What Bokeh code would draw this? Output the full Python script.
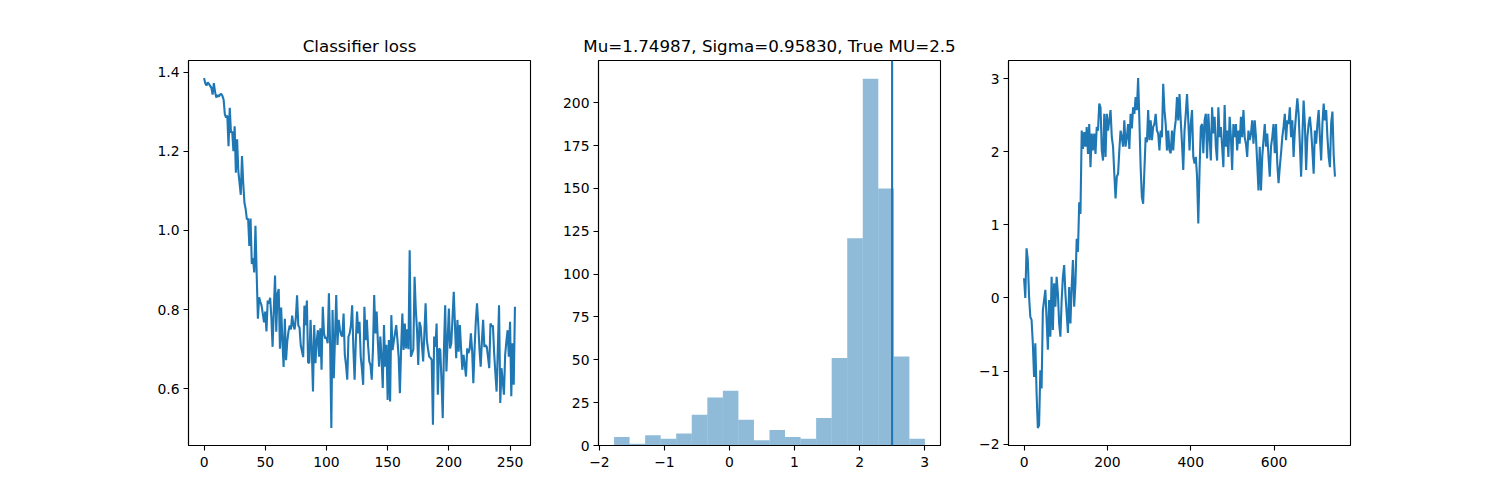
import numpy as np
from bokeh.plotting import figure
from bokeh.layouts import row
from bokeh.models import Range1d, FixedTicker, Span, PrintfTickFormatter
from bokeh.embed import file_html
from bokeh.resources import INLINE

BLUE = "#1f77b4"
FONT = "DejaVu Sans"

# classifier loss per step
loss = [1.385, 1.372, 1.366, 1.374, 1.37, 1.365, 1.36, 1.343, 1.372, 1.35,
        1.336, 1.342, 1.338, 1.343, 1.345, 1.34, 1.33, 1.293, 1.285, 1.29,
        1.213, 1.31, 1.247, 1.25, 1.2, 1.263, 1.146, 1.23, 1.15, 1.12,
        1.09, 1.188, 1.12, 1.07, 1.054, 1.028, 1.03, 0.961, 1.03, 0.915,
        0.93, 0.894, 1.012, 0.89, 0.777, 0.831, 0.82, 0.81, 0.79, 0.768,
        0.795, 0.745, 0.823, 0.815, 0.83, 0.78, 0.706, 0.8, 0.886, 0.744,
        0.84, 0.852, 0.701, 0.805, 0.72, 0.655, 0.777, 0.672, 0.72, 0.745,
        0.76, 0.75, 0.785, 0.76, 0.75, 0.78, 0.836, 0.76, 0.755, 0.71,
        0.695, 0.68, 0.81, 0.76, 0.823, 0.667, 0.665, 0.774, 0.7, 0.593,
        0.761, 0.665, 0.72, 0.748, 0.681, 0.753, 0.648, 0.807, 0.74, 0.727,
        0.73, 0.715, 0.841, 0.715, 0.501, 0.799, 0.627, 0.73, 0.837, 0.711,
        0.774, 0.75, 0.736, 0.732, 0.79, 0.686, 0.66, 0.623, 0.732, 0.74,
        0.76, 0.811, 0.7, 0.623, 0.72, 0.795, 0.74, 0.769, 0.681, 0.65,
        0.61, 0.807, 0.723, 0.774, 0.71, 0.669, 0.66, 0.623, 0.7, 0.837,
        0.74, 0.795, 0.72, 0.656, 0.732, 0.68, 0.602, 0.761, 0.656, 0.711,
        0.572, 0.723, 0.568, 0.786, 0.698, 0.72, 0.74, 0.761, 0.723, 0.68,
        0.589, 0.7, 0.79, 0.698, 0.765, 0.702, 0.75, 0.70, 0.95, 0.681,
        0.69, 0.70, 0.883, 0.8, 0.748, 0.66, 0.769, 0.757, 0.71, 0.669,
        0.74, 0.816, 0.723, 0.7, 0.681, 0.678, 0.673, 0.509, 0.732, 0.706,
        0.765, 0.585, 0.702, 0.698, 0.62, 0.526, 0.7, 0.811, 0.644, 0.72,
        0.803, 0.702, 0.715, 0.78, 0.845, 0.76, 0.677, 0.774, 0.694, 0.761,
        0.7, 0.648, 0.686, 0.66, 0.631, 0.702, 0.69, 0.7, 0.74, 0.698,
        0.614, 0.7, 0.769, 0.816, 0.765, 0.7, 0.656, 0.72, 0.774, 0.706,
        0.71, 0.706, 0.68, 0.652, 0.765, 0.757, 0.76, 0.69, 0.64, 0.593,
        0.7, 0.811, 0.564, 0.652, 0.62, 0.585, 0.686, 0.72, 0.748, 0.681,
        0.769, 0.581, 0.715, 0.61, 0.807]

# histogram of mu estimates (20 bins between min and max)
mu_min, mu_max = -1.775, 3.005
mu_counts = [5, 1, 6, 4, 7, 18, 28, 32, 15, 3, 9, 5, 4, 16, 51, 121, 214, 150, 52, 4]
true_mu = 2.5
hist_title = "Mu=1.74987, Sigma=0.95830, True MU=2.5"

# mu estimate trace (sampled every ~3 steps, 747 steps)
mu_steps = 746
mu_trace = [0.27, 0.0, 0.68, 0.52, 0.02, -0.26, -0.30, -0.62, -1.08, -0.62,
            -1.30, -1.78, -1.74, -0.99, -1.24, -0.17, -0.03, 0.11, -0.30, -0.71,
            -0.03, -0.53, 0.29, -0.44, 0.20, -0.12, 0.29, 0.06, -0.35, -0.53,
            -0.03, 0.29, 0.45, 0.06, -0.21, -0.48, 0.15, -0.35, 0.15, 0.52,
            -0.12, 0.20, 0.81, 0.63, 1.31, 1.15, 2.29, 2.04, 2.27, 2.07,
            2.34, 1.97, 2.38, 1.79, 2.25, 2.02, 2.25, 1.97, 2.34, 2.29,
            2.66, 2.61, 2.02, 1.88, 2.52, 1.93, 2.52, 2.29, 2.43, 2.57,
            2.20, 2.07, 1.70, 1.36, 1.66, 1.70, 2.02, 2.29, 2.20, 2.07,
            2.43, 2.07, 2.20, 2.38, 2.04, 2.52, 2.32, 2.61, 2.52, 2.75,
            2.57, 3.01, 2.43, 1.79, 1.38, 1.29, 1.75, 2.20, 2.13, 2.57,
            2.16, 2.43, 2.16, 2.34, 2.38, 2.52, 2.29, 2.25, 2.02, 2.29,
            2.20, 2.93, 2.57, 2.38, 2.02, 2.29, 2.02, 1.98, 2.29, 2.02,
            2.29, 2.43, 2.75, 2.43, 2.79, 2.43, 2.11, 1.75, 2.29, 2.52,
            2.79, 2.43, 2.02, 2.38, 2.57, 1.93, 1.84, 1.93, 1.66, 1.02,
            1.75, 2.34, 2.38, 1.98, 2.43, 2.52, 1.91, 2.52, 2.20, 1.88,
            2.61, 2.25, 2.48, 2.07, 1.88, 2.61, 2.20, 2.34, 2.07, 1.79,
            2.64, 2.07, 2.29, 1.93, 2.48, 2.20, 1.75, 2.38, 2.20, 2.38,
            2.02, 2.29, 2.11, 2.48, 2.20, 2.57, 2.20, 2.11, 1.93, 2.29,
            2.16, 2.25, 2.43, 2.11, 2.43, 2.20, 1.84, 1.47, 2.07, 1.47,
            1.93, 2.16, 2.38, 2.07, 2.25, 1.93, 1.66, 2.07, 2.20, 2.38,
            1.98, 2.38, 1.84, 1.57, 1.79, 1.98, 2.20, 2.34, 2.52, 2.16,
            2.43, 2.38, 2.61, 2.20, 2.43, 1.93, 2.29, 2.52, 2.73, 2.52,
            2.11, 1.66, 2.20, 2.70, 2.38, 1.75, 2.20, 2.38, 2.48, 2.29,
            2.02, 1.70, 2.29, 2.11, 2.38, 2.57, 2.20, 1.88, 2.38, 2.66,
            2.43, 2.57, 2.20, 1.93, 1.79, 2.40, 2.55, 1.95, 1.66]


def padded(lo, hi, frac=0.05):
    pad = (hi - lo) * frac
    return Range1d(lo - pad, hi + pad)


def make_fig(x_range, y_range, xticks, yticks, title, left, right):
    p = figure(width=left + 342 + right, height=60 + 385 + 32,
               frame_width=342, frame_height=385,
               x_range=x_range, y_range=y_range,
               output_backend="svg", toolbar_location=None,
               min_border_left=left, min_border_right=right,
               min_border_top=60, min_border_bottom=32, title=title)
    p.title.align = "center"
    p.title.text_font = FONT
    p.title.text_font_size = "16.7px"
    p.title.text_font_style = "normal"
    p.title.text_color = "black"
    p.grid.visible = False
    p.outline_line_color = "black"
    p.outline_line_width = 1.1
    p.outline_line_alpha = 1.0
    p.xaxis.ticker = FixedTicker(ticks=xticks)
    p.yaxis.ticker = FixedTicker(ticks=yticks)
    for ax in (p.xaxis, p.yaxis):
        ax.axis_line_color = "black"
        ax.axis_line_width = 1.1
        ax.major_tick_in = 0
        ax.major_tick_out = 5
        ax.major_tick_line_width = 1.1
        ax.minor_tick_line_color = None
        ax.major_label_text_font = FONT
        ax.major_label_text_font_size = "13.9px"
        ax.major_label_text_color = "black"
        ax.major_label_standoff = 4
    p.xaxis.major_label_standoff = 6
    return p


# panel 1: classifier loss
xs = np.arange(len(loss))
p1 = make_fig(padded(0, len(loss) - 1), padded(min(loss), max(loss)),
              [0, 50, 100, 150, 200, 250], [0.6, 0.8, 1.0, 1.2, 1.4],
              "Classifier loss", 188, 28)
p1.yaxis.formatter = PrintfTickFormatter(format="%.1f")
p1.line(xs, loss, line_color=BLUE, line_width=2.1)

# panel 2: histogram
edges = np.linspace(mu_min, mu_max, len(mu_counts) + 1)
p2 = make_fig(padded(mu_min, mu_max), Range1d(0, max(mu_counts) * 1.05),
              [-2, -1, 0, 1, 2, 3], [0, 25, 50, 75, 100, 125, 150, 175, 200],
              hist_title, 40, 30)
p2.quad(left=edges[:-1], right=edges[1:], bottom=0, top=mu_counts,
        fill_color=BLUE, fill_alpha=0.5, line_color=None)
p2.add_layout(Span(location=true_mu, dimension="height", line_color=BLUE, line_width=2.1))
p2.xaxis.major_label_overrides = {-2: "\u22122", -1: "\u22121"}

# panel 3: mu trace
ts = np.linspace(0, mu_steps, len(mu_trace))
p3 = make_fig(padded(0, mu_steps), padded(min(mu_trace), max(mu_trace)),
              [0, 200, 400, 600], [-2, -1, 0, 1, 2, 3], "", 38, 10)
p3.line(ts, mu_trace, line_color=BLUE, line_width=2.1)
p3.yaxis.major_label_overrides = {-2: "\u22122", -1: "\u22121"}

layout = row(p1, p2, p3, spacing=0)
open("out.html", "w").write(file_html(layout, INLINE))
